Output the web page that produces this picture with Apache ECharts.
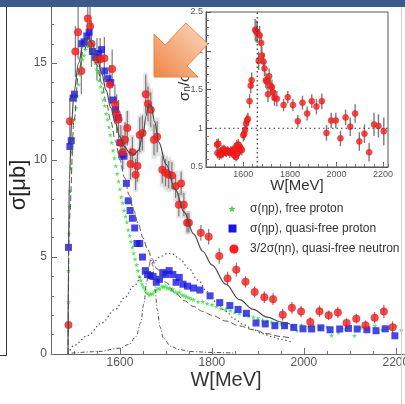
<!DOCTYPE html>
<html>
<head>
<meta charset="utf-8">
<script src="https://cdn.jsdelivr.net/npm/echarts@6/dist/echarts.min.js"></script>
<style>
  html, body { margin: 0; padding: 0; background: #fff; }
  #chart { width: 405px; height: 404px; }
</style>
</head>
<body>
<div id="chart"></div>
<script>
const FONT = '"Liberation Sans", Arial, Helvetica, sans-serif';

// σ(ηp), free proton  [W in MeV, σ in μb]
const freeW = [1488,1488,1489,1490,1491,1493,1495,1498,1501,1504,1507,1510,1513,1516,1519,1522,1525,1528,1531,1534,1537,1540,1543,1546,1549,1552,1555,1558,1561,1564,1567,1570,1573,1576,1579,1582,1585,1588,1591,1594,1597,1600,1603,1606,1609,1612,1615,1618,1621,1624,1627,1630,1633,1636,1639,1642,1645,1648,1651,1655,1659,1663,1667,1671,1675,1679,1683,1687,1691,1695,1699,1703,1707,1711,1715,1720,1725,1730,1735,1740,1745,1750,1755,1760,1770,1780,1790,1800,1810,1820,1830,1840,1850,1860,1870,1880,1890,1900,1910,1920,1930,1940,1950,1960,1975,1985,1995,2010,2020,2035,2050,2060,2075,2090,2110,2125,2140,2155,2170,2185,2200,2212];
const freeSigma = [2.7,4.3,6.2,7.6,8.4,9.6,10.4,11.1,12.1,12.7,13.3,13.9,14.4,14.8,15.2,15.4,15.7,15.9,15.95,15.9,15.7,15.5,15.3,15.0,14.7,14.5,14.1,13.8,13.5,13.1,12.8,12.4,12.1,11.7,11.3,10.9,10.5,10.1,9.7,9.3,8.9,8.5,8.1,7.8,7.4,7.1,6.8,6.4,6.1,5.8,5.5,5.2,4.9,4.6,4.3,4.0,3.8,3.6,3.45,3.3,3.15,3.05,3.1,3.1,3.25,3.3,3.4,3.35,3.5,3.45,3.5,3.4,3.4,3.3,3.35,3.2,3.15,3.2,3.05,3.0,2.95,2.9,2.85,2.8,2.7,2.7,2.6,2.55,2.45,2.35,2.3,2.25,2.15,2.1,2.0,1.95,1.9,1.85,1.75,1.7,1.65,1.6,1.55,1.5,1.45,1.2,1.5,1.4,1.5,1.35,1.4,0.95,1.1,1.3,0.95,1.35,1.3,1.45,1.25,1.35,1.45,1.25];

// σ(ηp), quasi-free proton
const qfpW = [1488,1491,1494,1498,1501,1517,1522,1528,1533,1540,1547,1554,1560,1567,1574,1580,1585,1590,1596,1600,1604,1609,1614,1618,1622,1627,1632,1637,1643,1649,1655,1660,1666,1672,1679,1686,1693,1700,1707,1715,1722,1729,1737,1747,1760,1774,1796,1817,1839,1857,1875,1896,1916,1937,1958,1978,1998,2017,2037,2057,2078,2097,2116,2137,2157,2177,2198];
const qfpSigma = [5.5,10.7,11.0,13.2,13.4,16.0,16.1,16.4,16.6,15.6,15.3,15.5,15.7,14.6,14.2,14.0,13.1,12.6,12.2,10.9,10.3,10.2,8.8,7.9,7.4,7.0,6.5,5.7,5.7,5.0,4.3,4.1,4.05,4.0,3.7,3.85,4.2,4.1,4.3,4.1,3.7,3.95,3.6,3.5,3.4,3.3,3.0,2.65,2.5,2.3,2.1,1.6,1.55,1.46,1.46,1.37,1.3,1.29,1.35,1.25,1.29,1.32,1.29,1.25,1.2,1.3,0.94];

// 3/2σ(ηn), quasi-free neutron, with statistical and systematic errors
const qfnW = [1488,1491,1503,1509,1516,1530,1535,1538,1550,1557,1566,1578,1583,1589,1593,1597,1602,1606,1611,1616,1623,1627,1634,1638,1643,1649,1656,1661,1667,1674,1681,1692,1699,1706,1713,1721,1728,1733,1739,1746,1750,1776,1793,1816,1834,1853,1873,1893,1914,1933,1954,1974,1994,2014,2034,2054,2074,2093,2114,2134,2154,2174,2193];
const qfnSigma = [1.5,12.0,15.6,16.6,14.6,17.3,16.9,16.0,15.2,15.2,15.25,13.9,14.7,12.9,12.4,12.1,10.9,10.4,11.05,11.65,9.8,10.4,9.25,9.7,11.3,11.4,13.4,12.9,12.6,11.05,11.2,9.5,9.35,9.25,9.2,8.65,7.7,8.8,7.7,6.77,6.77,6.25,6.05,5.05,3.9,4.35,3.72,3.2,2.93,2.83,2.03,2.38,2.19,1.65,2.2,2.0,2.14,1.6,1.82,1.48,1.87,2.19,1.38];
const qfnErr = [0.4,1.2,1.3,1.4,1.2,1.5,1.3,1.2,1.1,1.1,1.1,1.0,1.0,1.0,1.0,1.0,0.9,0.9,0.9,0.9,0.8,0.8,0.8,0.8,0.9,0.9,1.0,0.9,0.9,0.8,0.8,0.7,0.7,0.7,0.7,0.6,0.6,0.6,0.6,0.5,0.5,0.4,0.4,0.4,0.35,0.35,0.3,0.3,0.3,0.3,0.3,0.3,0.3,0.25,0.3,0.25,0.3,0.25,0.25,0.25,0.3,0.35,0.3];
const qfnSys = [0,0,0,0,0,0,0,0,0,0,0,0,0,0,0,0,0.9,0.9,0.9,0.9,0.9,0.9,0.9,0.9,1.0,1.0,1.1,1.1,1.1,1.0,1.0,0.9,0.9,0.9,0.8,0.8,0.7,0.7,0.7,0.6,0.6,0,0,0,0,0,0,0,0,0,0,0,0,0,0,0,0,0,0,0,0,0,0];

// model curves
const nFitW = [1487,1488,1490,1495,1500,1510,1520,1530,1540,1550,1560,1570,1580,1590,1600,1610,1620,1630,1640,1650,1657,1663,1668,1675,1685,1700,1720,1740,1760,1780,1800,1830,1860,1890,1920,1950,1970];
const nFitSigma = [0,5,9,12,13.5,15,16,16.3,16,15.3,14.5,13.6,12.7,11.9,11.2,10.7,10.4,10.3,10.5,11.3,12.3,12.9,12.8,12.0,10.9,9.8,8.5,7.3,6.2,5.3,4.6,3.6,2.8,2.3,1.9,1.65,1.55];
const pFitW = [1487,1490,1500,1510,1520,1530,1540,1550,1560,1570,1580,1590,1600,1610,1620,1630,1640,1650,1660,1670,1680,1700,1720,1740,1760,1780,1800,1830,1860,1890,1920,1950,1975];
const pFitSigma = [0,7,12,14.5,15.6,16,15.6,14.9,14.0,13,12,11,10,9.1,8.2,7.4,6.7,6.0,5.4,4.9,4.4,3.7,3.15,2.75,2.45,2.2,2.0,1.7,1.45,1.25,1.05,0.9,0.8];
const broadW = [1487,1500,1530,1560,1590,1610,1630,1650,1670,1690,1705,1715,1730,1750,1770,1790,1810,1830,1850,1870,1890,1910,1930,1950,1975];
const broadSigma = [0,0.45,0.95,1.6,2.3,2.9,3.5,4.1,4.7,5.05,5.2,5.15,4.9,4.4,3.8,3.2,2.65,2.2,1.8,1.5,1.25,1.05,0.9,0.75,0.6];
const narrowW = [1495,1550,1600,1620,1635,1645,1652,1658,1663,1667,1671,1676,1681,1687,1695,1710,1730,1760,1800,1850];
const narrowSigma = [0.05,0.12,0.3,0.5,0.9,1.6,2.6,3.7,4.5,4.9,4.6,3.5,2.3,1.4,0.8,0.4,0.22,0.12,0.08,0.05];

// neutron / proton ratio
const ratioW = [1487,1489,1493,1497,1501,1505,1509,1513,1517,1522,1527,1532,1537,1542,1547,1552,1557,1561,1565,1569,1572,1576,1579,1583,1587,1590,1594,1600,1604,1608,1612,1616,1620,1627,1632,1636,1651,1655,1660,1666,1670,1677,1680,1687,1691,1697,1701,1706,1711,1716,1723,1728,1734,1744,1773,1791,1813,1834,1854,1874,1894,1914,1937,1957,1977,1997,2017,2039,2059,2080,2098,2120,2140,2161,2180,2203];
const ratioVal = [0.79,0.68,0.80,0.66,0.69,0.66,0.72,0.68,0.73,0.70,0.69,0.71,0.70,0.68,0.71,0.69,0.72,0.65,0.74,0.63,0.78,0.68,0.79,0.71,0.75,0.73,0.72,0.91,0.93,0.98,1.06,1.10,1.12,1.35,1.55,1.62,2.27,2.25,2.24,1.87,2.20,2.10,1.94,1.86,1.77,1.62,1.60,1.44,1.67,1.55,1.53,1.46,1.39,1.38,1.30,1.40,1.30,1.09,1.33,1.19,1.35,1.28,1.35,0.94,1.10,1.10,0.87,1.14,1.02,1.19,0.83,0.93,0.69,1.05,1.03,0.96];
const ratioErr = [0.07,0.07,0.07,0.07,0.06,0.06,0.06,0.06,0.06,0.06,0.06,0.06,0.06,0.06,0.06,0.06,0.06,0.06,0.06,0.06,0.07,0.07,0.07,0.07,0.07,0.07,0.07,0.08,0.08,0.08,0.08,0.08,0.08,0.09,0.1,0.1,0.14,0.14,0.14,0.12,0.12,0.12,0.11,0.11,0.1,0.1,0.1,0.1,0.1,0.1,0.1,0.1,0.1,0.1,0.08,0.08,0.08,0.08,0.09,0.09,0.09,0.1,0.1,0.1,0.1,0.1,0.1,0.1,0.12,0.12,0.12,0.12,0.12,0.15,0.15,0.18];

// tick labels
const mainXTicks = [1600, 1800, 2000, 2200];
const mainYTicks = [0, 5, 10, 15];
const insetXTicks = [1600, 1800, 2000, 2200];
const legendLabels = ['σ(ηp), free proton', 'σ(ηp), quasi-free proton', '3/2σ(ηn), quasi-free neutron'];

const zip = (...cols) => cols[0].map((_, i) => cols.map(c => c[i]));
const plain = v => String(v);

function errorBar(color, width) {
  return function (params, api) {
    const x = api.value(0), y = api.value(1), e = api.value(2);
    if (!e) return null;
    const lo = api.coord([x, y - e]), hi = api.coord([x, y + e]);
    return { type: 'line', shape: { x1: lo[0], y1: lo[1], x2: hi[0], y2: hi[1] }, style: { stroke: color, lineWidth: width } };
  };
}
function sysBox(color, halfWidth) {
  return function (params, api) {
    const x = api.value(0), y = api.value(1), e = api.value(2);
    if (!e) return null;
    const lo = api.coord([x, y - e]), hi = api.coord([x, y + e]);
    return { type: 'rect', shape: { x: lo[0] - halfWidth, y: hi[1], width: halfWidth * 2, height: lo[1] - hi[1] }, style: { fill: color } };
  };
}
function starPoints(cx, cy, r) {
  const pts = [];
  for (let k = 0; k < 10; k++) {
    const rr = k % 2 ? r * 0.45 : r;
    const a = -Math.PI / 2 + k * Math.PI / 5;
    pts.push([cx + rr * Math.cos(a), cy + rr * Math.sin(a)]);
  }
  return pts;
}

const STAR = 'path://M50,0 L61,35 98,35 68,57 79,91 50,70 21,91 32,57 2,35 39,35 Z';
const GREEN = '#2fe030', BLUE = '#1616e8', RED = '#ff1c1c', CURVE = '#555';

const lineDefaults = { type: 'line', showSymbol: false, symbol: 'none', smooth: 0.35, smoothMonotone: 'x', silent: true, xAxisIndex: 0, yAxisIndex: 0 };

const chart = echarts.init(document.getElementById('chart'), null, { renderer: 'canvas' });
chart.setOption({
  animation: false,
  textStyle: { fontFamily: FONT },
  grid: [
    { left: 51, right: 0, top: 5, bottom: 50, show: false, containLabel: false, outerBoundsMode: 'none' },
    { left: 206, top: 12, width: 182, height: 155, show: true, backgroundColor: '#fff', borderColor: '#555', borderWidth: 1,
      containLabel: false, outerBoundsMode: 'none' }
  ],
  xAxis: [
    { gridIndex: 0, type: 'value', min: 1450, max: 2220, position: 'bottom',
      axisLine: { show: true, onZero: false, lineStyle: { color: '#666' } },
      axisTick: { show: true, inside: true, length: 6, customValues: mainXTicks, lineStyle: { color: '#666' } },
      axisLabel: { customValues: mainXTicks, formatter: plain, color: '#555', fontSize: 12, margin: 3, fontFamily: FONT },
      splitLine: { show: false } },
    { gridIndex: 0, type: 'value', min: 1450, max: 2220, interval: 50, position: 'bottom',
      axisLine: { show: false }, axisTick: { show: true, inside: true, length: 3, lineStyle: { color: '#777' } },
      axisLabel: { show: false }, splitLine: { show: false } },
    { gridIndex: 1, type: 'value', min: 1440, max: 2221, position: 'bottom',
      axisLine: { show: true, onZero: false, lineStyle: { color: '#555' } },
      axisTick: { show: true, inside: true, length: 5, customValues: insetXTicks, lineStyle: { color: '#555' } },
      axisLabel: { customValues: insetXTicks, formatter: plain, color: '#555', fontSize: 9, margin: 3, fontFamily: FONT },
      splitLine: { show: false } },
    { gridIndex: 1, type: 'value', min: 1440, max: 2221, interval: 40, position: 'bottom',
      axisLine: { show: false }, axisTick: { show: true, inside: true, length: 3, lineStyle: { color: '#777' } },
      axisLabel: { show: false }, splitLine: { show: false } }
  ],
  yAxis: [
    { gridIndex: 0, type: 'value', min: 0, max: 18, position: 'left',
      axisLine: { show: true, onZero: false, lineStyle: { color: '#666' } },
      axisTick: { show: true, inside: true, length: 6, customValues: mainYTicks, lineStyle: { color: '#666' } },
      axisLabel: { customValues: mainYTicks, formatter: plain, color: '#555', fontSize: 12, margin: 4, fontFamily: FONT },
      splitLine: { show: false } },
    { gridIndex: 0, type: 'value', min: 0, max: 18, interval: 1, position: 'left',
      axisLine: { show: false }, axisTick: { show: true, inside: true, length: 3, lineStyle: { color: '#777' } },
      axisLabel: { show: false }, splitLine: { show: false } },
    { gridIndex: 1, type: 'value', min: 0.5, max: 2.5, interval: 0.5, position: 'left',
      axisLine: { show: true, onZero: false, lineStyle: { color: '#555' } },
      axisTick: { show: true, inside: true, length: 5, lineStyle: { color: '#555' } },
      minorTick: { show: true, splitNumber: 5, length: 3, lineStyle: { color: '#777' } },
      axisLabel: { formatter: plain, color: '#555', fontSize: 9, margin: 3, fontFamily: FONT },
      splitLine: { show: false } }
  ],
  series: [
    Object.assign({}, lineDefaults, { name: 'narrow', data: zip(narrowW, narrowSigma), lineStyle: { color: CURVE, width: 1, type: [4, 2, 1, 2] } }),
    Object.assign({}, lineDefaults, { name: 'broad', data: zip(broadW, broadSigma), lineStyle: { color: CURVE, width: 1.2, type: [1.5, 2.5] } }),
    Object.assign({}, lineDefaults, { name: 'proton fit', data: zip(pFitW, pFitSigma), lineStyle: { color: CURVE, width: 1, type: [6, 3] } }),
    Object.assign({}, lineDefaults, { name: 'neutron fit', data: zip(nFitW, nFitSigma), lineStyle: { color: '#4a4a4a', width: 1.2 } }),
    { type: 'custom', name: 'neutron sys', xAxisIndex: 0, yAxisIndex: 0, clip: true, silent: true,
      renderItem: sysBox('rgba(150,150,150,0.25)', 2.5), data: zip(qfnW, qfnSigma, qfnSys) },
    { type: 'custom', name: 'neutron err', xAxisIndex: 0, yAxisIndex: 0, clip: true, silent: true,
      renderItem: errorBar('#7a7a7a', 1.2), data: zip(qfnW, qfnSigma, qfnErr) },
    { type: 'scatter', name: legendLabels[0], xAxisIndex: 0, yAxisIndex: 0, symbol: STAR, symbolSize: 5,
      itemStyle: { color: GREEN }, data: zip(freeW, freeSigma), silent: true },
    { type: 'scatter', name: legendLabels[1], xAxisIndex: 0, yAxisIndex: 0, symbol: 'rect', symbolSize: 7,
      itemStyle: { color: BLUE }, data: zip(qfpW, qfpSigma), silent: true },
    { type: 'scatter', name: legendLabels[2], xAxisIndex: 0, yAxisIndex: 0, symbol: 'circle', symbolSize: 7.5,
      itemStyle: { color: RED, borderColor: '#d81010', borderWidth: 0.5 }, data: zip(qfnW, qfnSigma), silent: true },
    // inset: ratio of neutron to proton
    { type: 'line', xAxisIndex: 2, yAxisIndex: 2, symbol: 'none', silent: true, z: 3,
      data: [[1440, 1], [2221, 1]], lineStyle: { color: '#333', width: 1.2, type: [1.5, 3] } },
    { type: 'line', xAxisIndex: 2, yAxisIndex: 2, symbol: 'none', silent: true, z: 3,
      data: [[1660, 0.5], [1660, 2.5]], lineStyle: { color: '#333', width: 1.2, type: [1.5, 3] } },
    { type: 'custom', xAxisIndex: 2, yAxisIndex: 2, clip: true, silent: true,
      renderItem: errorBar('#7a7a7a', 1.4), data: zip(ratioW, ratioVal, ratioErr) },
    { type: 'scatter', xAxisIndex: 2, yAxisIndex: 2, symbol: 'circle', symbolSize: 6, silent: true,
      itemStyle: { color: RED, borderColor: '#d81010', borderWidth: 0.5 }, data: zip(ratioW, ratioVal) }
  ],
  graphic: [
    // axis titles
    { type: 'text', x: 19, y: 185, rotation: Math.PI / 2, z: 50,
      style: { text: 'σ[μb]', font: '22px ' + FONT, fill: '#222', align: 'center', verticalAlign: 'middle' } },
    { type: 'text', x: 226, y: 380, z: 50,
      style: { text: 'W[MeV]', font: '20px ' + FONT, fill: '#333', align: 'center', verticalAlign: 'middle' } },
    { type: 'text', x: 297, y: 186, z: 50,
      style: { text: 'W[MeV]', font: '15px ' + FONT, fill: '#333', align: 'center', verticalAlign: 'middle' } },
    { type: 'text', x: 183, y: 84, rotation: Math.PI / 2, z: 50,
      style: { text: '{a|σ}{s|n}{a|/σ}{s|p}', align: 'center', verticalAlign: 'middle', fill: '#333',
        rich: { a: { font: '15px ' + FONT, fill: '#333', lineHeight: 18, verticalAlign: 'bottom' },
                s: { font: '10px ' + FONT, fill: '#333', lineHeight: 18, verticalAlign: 'bottom', padding: [6, 0, 0, 0] } } } },
    // legend
    { type: 'polygon', z: 50, shape: { points: starPoints(232, 209, 3.6) }, style: { fill: GREEN } },
    { type: 'rect', z: 50, shape: { x: 228.5, y: 224.5, width: 8, height: 8 }, style: { fill: BLUE } },
    { type: 'circle', z: 50, shape: { cx: 234, cy: 249, r: 4.6 }, style: { fill: RED } },
    { type: 'text', x: 250, y: 209, z: 50, style: { text: legendLabels[0], font: '12px ' + FONT, fill: '#333', verticalAlign: 'middle' } },
    { type: 'text', x: 250, y: 229, z: 50, style: { text: legendLabels[1], font: '12px ' + FONT, fill: '#333', verticalAlign: 'middle' } },
    { type: 'text', x: 250, y: 249, z: 50, style: { text: legendLabels[2], font: '12px ' + FONT, fill: '#333', verticalAlign: 'middle' } },
    // slide frame around the figure
    { type: 'polyline', z: 100, shape: { points: [[6.5, 7], [6.5, 355.5], [0, 355.5]] }, style: { stroke: '#333', lineWidth: 1, fill: null } },
    { type: 'line', z: 100, shape: { x1: 401.5, y1: 7, x2: 401.5, y2: 404 }, style: { stroke: '#cfcfcf', lineWidth: 1 } },
    { type: 'rect', z: 100, shape: { x: 0, y: 0, width: 405, height: 7 }, style: { fill: '#3a5a8c' } },
    // call-out arrow
    { type: 'polygon', z: 100,
      shape: { points: [[154, 34], [165, 45], [186, 23], [208, 44], [187, 66], [198, 77], [154, 77]] },
      style: { fill: new echarts.graphic.LinearGradient(1, 0, 0, 1, [{ offset: 0, color: '#fcdcc6' }, { offset: 1, color: '#ef8442' }]),
               stroke: '#ec8440', lineWidth: 1 } }
  ]
});
</script>
</body>
</html>
